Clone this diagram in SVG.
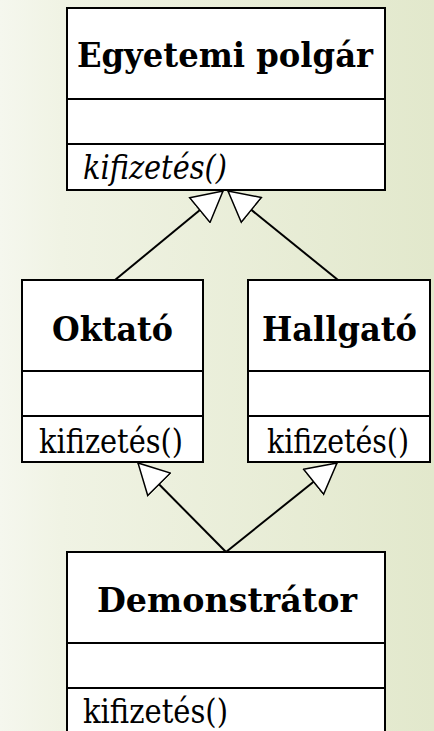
<svg xmlns="http://www.w3.org/2000/svg" width="434" height="731" viewBox="0 0 434 731">
<defs>
<linearGradient id="bg" x1="0" y1="0" x2="1" y2="0">
<stop offset="0" stop-color="#f5f7ee"/>
<stop offset="0.14" stop-color="#f0f3e4"/>
<stop offset="1" stop-color="#e2e8cc"/>
</linearGradient>
<marker id="tri" viewBox="-1 -1 32 34" refX="30" refY="16" markerWidth="32" markerHeight="34" markerUnits="userSpaceOnUse" orient="auto">
<path d="M0,0 L30,16 L0,32 Z" fill="#fff" stroke="#000" stroke-width="1.5" stroke-linejoin="miter"/>
</marker>
<style>
.box{fill:#fff;stroke:#000;stroke-width:2}
.div{stroke:#000;stroke-width:2}
text{font-family:"DejaVu Serif","Liberation Serif",serif;fill:#000}
.name{font-weight:bold;font-size:34px}
.op{font-size:33px}
.it{font-style:italic}
.conn{stroke:#000;stroke-width:2;fill:none;marker-end:url(#tri)}
</style>
</defs>
<rect width="434" height="731" fill="url(#bg)"/>
<g id="connectors">
<line class="conn" x1="115" y1="280" x2="223" y2="191"/>
<line class="conn" x1="338" y1="280" x2="228" y2="191"/>
<line class="conn" x1="226" y1="552" x2="138" y2="463"/>
<line class="conn" x1="226" y1="552" x2="337" y2="463"/>
</g>
<g id="egyetemi-polgar">
<rect class="box" x="67" y="8" width="318" height="182"/>
<line class="div" x1="67" y1="99" x2="385" y2="99"/>
<line class="div" x1="67" y1="144" x2="385" y2="144"/>
<text class="name" x="77" y="67" textLength="296" lengthAdjust="spacingAndGlyphs">Egyetemi polgár</text>
<text class="op it" x="83" y="179" textLength="144" lengthAdjust="spacingAndGlyphs">kifizetés()</text>
</g>
<g id="oktato">
<rect class="box" x="22" y="280" width="181" height="182"/>
<line class="div" x1="22" y1="371" x2="203" y2="371"/>
<line class="div" x1="22" y1="416" x2="203" y2="416"/>
<text class="name" x="52" y="341" textLength="121" lengthAdjust="spacingAndGlyphs">Oktató</text>
<text class="op" x="39" y="453" textLength="144" lengthAdjust="spacingAndGlyphs">kifizetés()</text>
</g>
<g id="hallgato">
<rect class="box" x="248" y="280" width="182" height="182"/>
<line class="div" x1="248" y1="371" x2="430" y2="371"/>
<line class="div" x1="248" y1="416" x2="430" y2="416"/>
<text class="name" x="262" y="341" textLength="155" lengthAdjust="spacingAndGlyphs">Hallgató</text>
<text class="op" x="267" y="453" textLength="142" lengthAdjust="spacingAndGlyphs">kifizetés()</text>
</g>
<g id="demonstrator">
<rect class="box" x="67" y="552" width="318" height="190"/>
<line class="div" x1="67" y1="643" x2="385" y2="643"/>
<line class="div" x1="67" y1="688" x2="385" y2="688"/>
<text class="name" x="97" y="612" textLength="260" lengthAdjust="spacingAndGlyphs">Demonstrátor</text>
<text class="op" x="83" y="723" textLength="145" lengthAdjust="spacingAndGlyphs">kifizetés()</text>
</g>
</svg>
